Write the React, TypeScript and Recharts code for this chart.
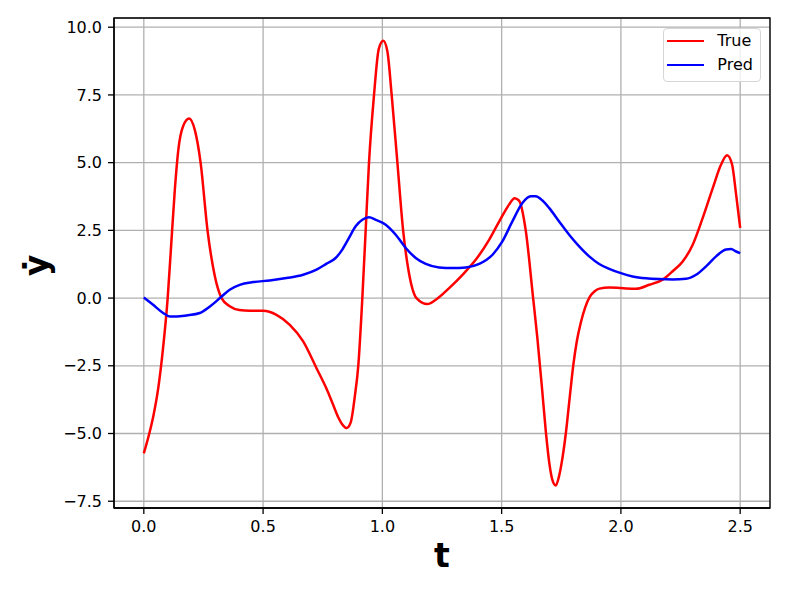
import React from 'react';
import { LineChart, Line, XAxis, YAxis, CartesianGrid, Legend, ReferenceArea } from 'recharts';

const tTrue = [0, 0.02, 0.04, 0.06, 0.08, 0.1, 0.115, 0.13, 0.145, 0.165, 0.19, 0.214, 0.238, 0.267, 0.298, 0.326, 0.36, 0.4, 0.444, 0.5, 0.556, 0.612, 0.668, 0.724, 0.766, 0.794, 0.815, 0.835, 0.85, 0.867, 0.885, 0.899, 0.916, 0.93, 0.944, 0.965, 0.985, 1.004, 1.021, 1.039, 1.063, 1.087, 1.11, 1.143, 1.189, 1.224, 1.28, 1.336, 1.392, 1.448, 1.49, 1.531, 1.554, 1.573, 1.601, 1.632, 1.65, 1.668, 1.685, 1.7, 1.714, 1.727, 1.74, 1.755, 1.769, 1.785, 1.8, 1.815, 1.832, 1.85, 1.87, 1.89, 1.91, 1.951, 2.0, 2.063, 2.119, 2.175, 2.217, 2.259, 2.301, 2.343, 2.385, 2.42, 2.445, 2.466, 2.483, 2.5];
const yTrue = [-5.73, -5.1, -4.35, -3.35, -1.9, 0, 2.0, 4.0, 5.5, 6.35, 6.63, 6.2, 5.0, 2.5, 0.8, 0, -0.3, -0.44, -0.47, -0.47, -0.62, -0.99, -1.6, -2.59, -3.35, -3.95, -4.4, -4.7, -4.8, -4.6, -3.6, -2.5, 0, 2.5, 5.0, 7.5, 9.2, 9.5, 9.11, 7.5, 5.0, 2.5, 1.0, 0, -0.22, -0.06, 0.37, 0.86, 1.42, 2.16, 2.83, 3.45, 3.69, 3.6, 2.5, 0, -1.5, -3.2, -4.9, -6.1, -6.75, -6.92, -6.6, -5.9, -5.0, -3.7, -2.5, -1.6, -0.9, -0.35, 0.05, 0.25, 0.35, 0.39, 0.37, 0.34, 0.49, 0.68, 0.99, 1.35, 1.97, 2.96, 4.06, 4.93, 5.27, 4.93, 3.82, 2.59];

const tPred = [0, 0.039, 0.081, 0.109, 0.137, 0.179, 0.235, 0.277, 0.319, 0.36, 0.402, 0.458, 0.528, 0.598, 0.668, 0.724, 0.766, 0.804, 0.832, 0.86, 0.888, 0.916, 0.944, 0.972, 1.014, 1.056, 1.098, 1.14, 1.182, 1.238, 1.294, 1.35, 1.406, 1.462, 1.503, 1.545, 1.587, 1.622, 1.643, 1.671, 1.699, 1.741, 1.783, 1.825, 1.867, 1.909, 1.951, 2.0, 2.049, 2.105, 2.161, 2.217, 2.273, 2.315, 2.357, 2.399, 2.441, 2.462, 2.483, 2.5];
const yPred = [0.02, -0.25, -0.55, -0.68, -0.68, -0.64, -0.55, -0.31, 0, 0.31, 0.49, 0.59, 0.65, 0.74, 0.86, 1.05, 1.27, 1.48, 1.79, 2.22, 2.65, 2.89, 2.98, 2.89, 2.71, 2.34, 1.85, 1.48, 1.26, 1.13, 1.11, 1.13, 1.26, 1.6, 2.09, 2.83, 3.51, 3.76, 3.76, 3.6, 3.33, 2.83, 2.34, 1.91, 1.54, 1.26, 1.08, 0.92, 0.8, 0.73, 0.7, 0.69, 0.71, 0.86, 1.17, 1.54, 1.79, 1.81, 1.72, 1.66];

const xTicks = [0, 0.5, 1, 1.5, 2, 2.5];
const yTicks = [-7.5, -5, -2.5, 0, 2.5, 5, 7.5, 10];
const xDomain = [-0.125, 2.625];
const yDomain = [-7.75, 10.34];
const seriesNames = ['True', 'Pred'];
const seriesColors = ['#ff0000', '#0000ff'];
const xLabel = 't';
const yLabel = 'ẏ';

const trueData = tTrue.map((t, i) => ({ t, v: yTrue[i] }));
const predData = tPred.map((t, i) => ({ t, v: yPred[i] }));

const FONT = "'DejaVu Sans', sans-serif";
const fmt = (v: number) => v.toFixed(1).replace('-', '\u2212');

const renderXLabel = (props: any) => {
  const vb = props && props.viewBox ? props.viewBox : { x: 106, y: 500, width: 656, height: 84 };
  return (
    <text x={vb.x + vb.width / 2} y={vb.y + 58.7} textAnchor="middle" fontFamily={FONT} fontWeight="bold" fontSize={33} fill="#000">
      {xLabel}
    </text>
  );
};

const renderYLabel = (props: any) => {
  const vb = props && props.viewBox ? props.viewBox : { x: 0, y: 10, width: 106, height: 490 };
  const cx = 40;
  const cy = vb.y + vb.height / 2 + 2.5;
  return (
    <text x={cx} y={cy} transform={`rotate(-90 ${cx} ${cy})`} textAnchor="middle" fontFamily={FONT} fontWeight="bold" fontSize={33} fill="#000">
      {yLabel}
    </text>
  );
};

const LegendBox = () => (
  <div
    style={{
      position: 'relative',
      width: 98,
      height: 54,
      boxSizing: 'border-box',
      border: '1px solid #d6d6d6',
      borderRadius: 4,
      background: 'rgba(255,255,255,0.8)',
      fontFamily: FONT,
      fontSize: 16,
      color: '#000',
    }}
  >
    {seriesNames.map((name, i) => {
      const y = 12.7 + 24 * i;
      return (
        <React.Fragment key={name}>
          <div style={{ position: 'absolute', left: 3.6, top: y - 1.25 - 1, width: 36.7, height: 2.5, background: seriesColors[i] }} />
          <div style={{ position: 'absolute', left: 53.6, top: y - 10 - 1, height: 20, lineHeight: '20px', whiteSpace: 'nowrap' }}>{name}</div>
        </React.Fragment>
      );
    })}
  </div>
);

export default function App() {
  return (
    <LineChart width={781} height={584} margin={{ top: 10, right: 19, bottom: 0, left: 0 }}>
      <CartesianGrid stroke="#b0b0b0" strokeWidth={1.3} />
      <XAxis
        dataKey="t"
        type="number"
        domain={xDomain}
        ticks={xTicks}
        allowDataOverflow
        height={84}
        tickFormatter={fmt}
        tick={{ fontFamily: FONT, fontSize: 16, fill: '#000' }}
        tickSize={6}
        tickMargin={7}
        tickLine={{ stroke: '#000', strokeWidth: 1.3 }}
        axisLine={{ stroke: '#000', strokeWidth: 1.3 }}
        label={renderXLabel}
      />
      <YAxis
        type="number"
        domain={yDomain}
        ticks={yTicks}
        allowDataOverflow
        width={106}
        tickFormatter={fmt}
        tick={{ fontFamily: FONT, fontSize: 16, fill: '#000' }}
        tickSize={6}
        tickMargin={6}
        tickLine={{ stroke: '#000', strokeWidth: 1.3 }}
        axisLine={{ stroke: '#000', strokeWidth: 1.3 }}
        label={renderYLabel}
      />
      <ReferenceArea x1={xDomain[0]} x2={xDomain[1]} y1={yDomain[0]} y2={yDomain[1]} fill="none" fillOpacity={0} stroke="#000" strokeWidth={1.3} strokeOpacity={1} ifOverflow="visible" />
      <Line data={trueData} dataKey="v" name={seriesNames[0]} type="monotone" stroke={seriesColors[0]} strokeWidth={2.5} dot={false} isAnimationActive={false} />
      <Line data={predData} dataKey="v" name={seriesNames[1]} type="monotone" stroke={seriesColors[1]} strokeWidth={2.5} dot={false} isAnimationActive={false} />
      <Legend
        layout="vertical"
        align="center"
        verticalAlign="middle"
        content={() => <LegendBox />}
        wrapperStyle={{ left: 654.7, top: 20.3, width: 98, height: 54, right: 'auto', bottom: 'auto' }}
      />
    </LineChart>
  );
}
